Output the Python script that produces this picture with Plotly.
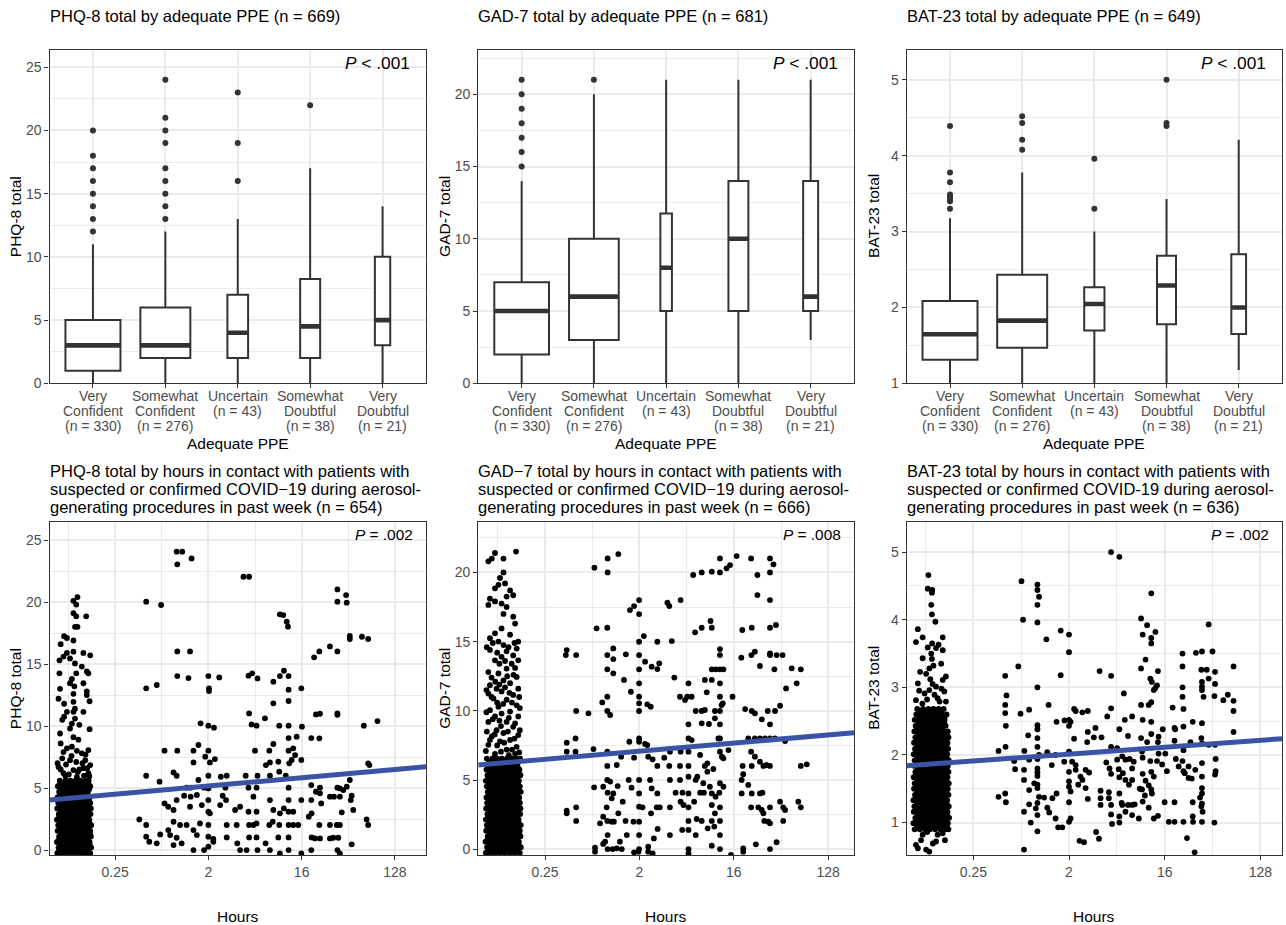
import numpy as np
import plotly.graph_objects as go

FONT = "Liberation Sans, Arial, sans-serif"
W, H = 1286, 925
INK = "#333333"
GRID = "#EBEBEB"
TICKTXT = "#4D4D4D"
FIT = "#3A53A4"

# ======================= DATA =======================
# --- top row: categories (x tick labels, one list per text line)
ppe_line1 = ["Very", "Somewhat", "Uncertain", "Somewhat", "Very"]
ppe_line2 = ["Confident", "Confident", "(n = 43)", "Doubtful", "Doubtful"]
ppe_line3 = ["(n = 330)", "(n = 276)", "", "(n = 38)", "(n = 21)"]
ppe_pos = [1, 2, 3, 4, 5]

# PHQ-8 box statistics
phq_q1 = [1, 2, 2, 2, 3]
phq_med = [3, 3, 4, 4.5, 5]
phq_q3 = [5, 6, 7, 8.25, 10]
phq_lo = [0, 0, 0, 0, 0]
phq_hi = [11, 12, 13, 17, 14]
phq_out = [[12, 13, 14, 15, 16, 17, 18, 20],
           [13, 14, 15, 16, 17, 19, 20, 21, 24],
           [16, 19, 23], [22], []]

# GAD-7 box statistics
gad_q1 = [2, 3, 5, 5, 5]
gad_med = [5, 6, 8, 10, 6]
gad_q3 = [7, 10, 11.75, 14, 14]
gad_lo = [0, 0, 0, 0, 3]
gad_hi = [14, 20, 21, 21, 21]
gad_out = [[15, 16, 17, 18, 19, 20, 21], [21], [], [], []]

# BAT-23 box statistics
bat_q1 = [1.31, 1.47, 1.695, 1.78, 1.65]
bat_med = [1.646, 1.826, 2.046, 2.29, 2.0]
bat_q3 = [2.086, 2.43, 2.266, 2.68, 2.70]
bat_lo = [1.0, 1.0, 1.0, 1.0, 1.176]
bat_hi = [3.176, 3.78, 3.0, 3.43, 4.21]
bat_out = [[3.30, 3.40, 3.43, 3.46, 3.49, 3.65, 3.78, 4.39],
           [4.08, 4.21, 4.43, 4.52],
           [3.30, 3.96], [4.39, 4.43, 5.0], []]

# y tick values
phq_yticks = [0, 5, 10, 15, 20, 25]
gad_yticks = [0, 5, 10, 15, 20]
bat_yticks = [1, 2, 3, 4, 5]
hours_ticks = [0.25, 2, 16, 128]
hours_ticktext = ["0.25", "2", "16", "128"]

# --- bottom row: scatter (x stored as log2(hours), y = score)
# PHQ-8, zero-hour column: dense rows (score, list of log2 hours)
phq0_rows_y = [-0.25, 0.2, 0.65, 1.1, 1.55, 2.0, 2.45, 2.9, 3.35, 3.8, 4.25, 4.7, 5.15, 5.6,
               -0.03, 0.43, 0.88, 1.33, 1.78, 2.22, 2.68, 3.12, 3.58, 4.02, 4.48, 4.92, 5.38]
phq0_rows_x = [
    [-3.86, -3.71, -3.57, -3.41, -3.26, -3.10, -2.95, -2.80],
    [-3.82, -3.66, -3.50, -3.35, -3.19, -3.03, -2.88, -2.77],
    [-3.87, -3.73, -3.58, -3.43, -3.27, -3.12, -2.97, -2.82],
    [-3.80, -3.64, -3.49, -3.33, -3.18, -3.02, -2.87, -2.78],
    [-3.85, -3.70, -3.55, -3.40, -3.24, -3.09, -2.93, -2.80],
    [-3.83, -3.67, -3.52, -3.36, -3.21, -3.06, -2.90, -2.77],
    [-3.87, -3.72, -3.56, -3.42, -3.28, -3.13, -2.98, -2.83],
    [-3.81, -3.65, -3.50, -3.34, -3.19, -3.04, -2.89, -2.79],
    [-3.86, -3.69, -3.54, -3.39, -3.23, -3.08, -2.92, -2.78],
    [-3.83, -3.68, -3.51, -3.37, -3.20, -3.05, -2.90, -2.80],
    [-3.85, -3.70, -3.55, -3.40, -3.25, -3.10, -2.95, -2.82],
    [-3.80, -3.63, -3.48, -3.33, -3.17, -3.02, -2.88],
    [-3.84, -3.68, -3.53, -3.38, -3.22, -3.06, -2.92, -2.80],
    [-3.78, -3.60, -3.44, -3.28, -3.12, -2.97, -2.85],
    [-3.79, -3.63, -3.49, -3.33, -3.18, -3.02, -2.87],
    [-3.75, -3.58, -3.43, -3.27, -3.11, -2.96, -2.82],
    [-3.80, -3.65, -3.50, -3.35, -3.20, -3.04, -2.89],
    [-3.73, -3.57, -3.41, -3.26, -3.10, -2.95, -2.81],
    [-3.78, -3.62, -3.47, -3.32, -3.16, -3.01, -2.86],
    [-3.76, -3.60, -3.44, -3.29, -3.13, -2.98, -2.83],
    [-3.80, -3.64, -3.49, -3.35, -3.20, -3.05, -2.90],
    [-3.74, -3.58, -3.42, -3.27, -3.12, -2.96, -2.84],
    [-3.78, -3.62, -3.46, -3.31, -3.16, -3.00, -2.85],
    [-3.76, -3.60, -3.44, -3.28, -3.13, -2.97, -2.84],
    [-3.78, -3.63, -3.48, -3.32, -3.17, -3.03, -2.88],
    [-3.72, -3.56, -3.41, -3.25, -3.10, -2.95, -2.83],
    [-3.77, -3.61, -3.46, -3.30, -3.14, -2.99, -2.86],
]
phq0_pts = [(-3.21, 20.4), (-3.34, 20.1), (-3.25, 19.8), (-3.34, 19.1), (-3.25, 18.85), (-2.93, 18.85),
            (-3.29, 18.0), (-3.21, 18.0), (-3.64, 17.25), (-3.55, 17.1), (-3.75, 16.6), (-3.34, 16.9),
            (-3.55, 15.9), (-3.34, 16.0), (-3.02, 15.9), (-2.80, 15.7), (-3.79, 15.3), (-3.66, 15.6),
            (-3.45, 15.45), (-3.29, 15.05), (-3.07, 14.8), (-2.91, 14.4), (-2.86, 14.25), (-3.79, 14.25),
            (-3.25, 14.25), (-3.39, 13.8), (-3.45, 13.45), (-3.31, 13.2), (-3.02, 13.45), (-3.77, 13.0),
            (-2.91, 12.8), (-2.82, 12.0), (-2.91, 12.5), (-3.34, 12.6), (-3.82, 12.2), (-3.64, 11.8),
            (-3.34, 11.95), (-3.02, 11.15), (-3.55, 11.15), (-3.34, 11.15), (-3.29, 11.4), (-3.70, 10.5),
            (-3.64, 10.75), (-3.39, 10.2), (-3.45, 9.8), (-3.15, 10.1), (-3.29, 10.6), (-2.82, 9.75),
            (-3.77, 9.4), (-3.34, 9.1), (-3.18, 8.9), (-3.75, 8.6), (-3.55, 8.2), (-3.39, 8.33),
            (-2.86, 8.06), (-3.66, 7.9), (-3.23, 8.0), (-3.07, 7.8), (-3.82, 6.7), (-3.45, 7.25),
            (-2.96, 7.25), (-2.80, 6.85), (-3.34, 6.45), (-3.02, 6.6), (-3.66, 6.2), (-3.23, 5.9),
            (-2.86, 6.2), (-3.75, 6.5), (-3.58, 6.9), (-3.49, 6.1), (-3.15, 6.5), (-3.05, 7.0),
            (-2.90, 6.6), (-3.70, 7.4), (-3.40, 7.6), (-3.25, 7.1), (-2.95, 7.7), (-3.60, 5.95),
            (-3.00, 6.0), (-3.85, 7.0), (-3.20, 6.3), (-2.83, 5.95)]
# PHQ-8, hours > 0
phq_pts = [(-0.02, 24.06), (0.16, 24.06), (0.0, 23.04), (0.46, 23.52), (2.13, 22.04), (2.31, 22.04),
           (5.15, 21.02), (5.43, 20.56), (5.15, 20.03), (5.45, 19.95), (-1.0, 20.03), (-0.52, 19.76),
           (3.30, 19.01), (3.41, 18.95), (3.52, 18.41), (3.56, 18.01), (5.55, 17.26), (5.55, 17.02),
           (5.94, 17.2), (6.14, 17.02), (0.0, 16.02), (0.41, 16.02), (4.91, 16.42), (4.57, 16.02),
           (4.40, 15.54), (5.15, 16.02), (3.43, 14.46), (3.30, 14.03), (3.58, 14.03), (0.0, 14.03),
           (0.36, 13.87), (1.0, 14.03), (1.35, 13.92), (2.29, 14.06), (2.41, 14.25), (2.58, 13.84),
           (3.09, 13.58), (-1.0, 13.04), (-0.66, 13.31), (1.02, 13.04), (1.02, 12.82), (3.99, 13.04),
           (3.58, 12.93), (3.58, 12.02), (3.09, 11.83), (4.46, 10.94), (4.59, 10.99), (5.15, 11.02),
           (5.15, 10.91), (2.31, 11.02), (2.82, 10.62), (0.75, 10.22), (1.0, 10.03), (1.18, 9.87),
           (2.39, 10.13), (2.55, 10.03), (3.28, 10.03), (3.58, 10.03), (4.01, 9.95), (6.0, 10.03),
           (6.44, 10.40), (3.58, 9.03), (3.84, 9.14), (4.31, 9.03), (4.57, 9.01), (3.09, 8.55),
           (0.68, 8.47), (-0.41, 8.01), (0.0, 8.01), (0.52, 8.01), (1.0, 8.01), (2.50, 8.01),
           (2.96, 8.01), (3.58, 8.01), (3.73, 8.20), (3.99, 7.26), (3.79, 7.66), (3.68, 7.26),
           (3.60, 6.99), (1.21, 7.34), (1.05, 7.07), (0.90, 7.53), (0.52, 7.07), (3.25, 7.12),
           (2.98, 7.07), (2.85, 6.85), (6.14, 6.99), (6.18, 6.85), (-0.12, 6.26), (-0.02, 5.99),
           (-1.0, 5.99), (-0.57, 5.51), (1.0, 5.99), (1.40, 5.91), (1.59, 5.99), (2.20, 5.99),
           (2.58, 5.99), (2.98, 5.99), (3.28, 6.32), (3.49, 5.99), (0.68, 5.65), (0.30, 5.03),
           (0.43, 5.03), (0.86, 5.03), (1.0, 4.97), (1.55, 5.03), (2.29, 5.03), (2.55, 5.03),
           (3.58, 5.03), (4.31, 5.24), (4.59, 5.03), (5.15, 5.03), (5.45, 5.11), (5.55, 5.65),
           (5.23, 4.97), (5.34, 4.84), (-0.02, 4.03), (0.22, 4.38), (0.43, 4.30), (0.63, 4.44),
           (1.0, 4.03), (1.46, 4.38), (1.57, 4.03), (2.45, 4.30), (2.98, 4.03), (3.58, 4.03),
           (3.99, 4.03), (4.31, 4.03), (4.46, 4.70), (4.63, 3.76), (4.91, 4.30), (5.04, 4.30),
           (5.23, 4.30), (5.58, 4.03), (5.61, 4.38), (4.59, 4.57), (-0.41, 3.76), (-0.29, 3.49),
           (-0.12, 3.23), (0.41, 3.49), (0.79, 3.63), (1.0, 3.09), (1.05, 2.96), (1.38, 3.63),
           (1.86, 3.23), (2.02, 3.49), (2.29, 3.09), (2.55, 3.09), (3.09, 3.23), (3.30, 2.96),
           (3.43, 3.36), (3.58, 3.09), (3.73, 3.09), (4.23, 2.69), (4.32, 2.96), (5.29, 3.04),
           (5.66, 3.23), (-1.22, 2.47), (-1.0, 2.02), (-0.29, 1.61), (-0.12, 2.28), (0.09, 2.02),
           (0.30, 2.02), (0.52, 1.61), (0.73, 2.15), (1.0, 2.02), (1.59, 2.02), (1.91, 2.02),
           (2.31, 2.02), (2.45, 2.02), (2.55, 2.15), (2.96, 2.02), (3.07, 2.28), (3.28, 2.02),
           (3.58, 2.02), (3.73, 2.02), (3.89, 2.02), (4.57, 2.02), (4.91, 2.02), (5.13, 2.02),
           (5.23, 2.02), (6.09, 2.47), (6.14, 2.02), (-1.0, 1.08), (-0.55, 1.26), (-0.23, 1.21),
           (-0.02, 0.99), (0.63, 1.21), (1.0, 1.08), (1.16, 0.89), (1.59, 1.02), (2.31, 1.02),
           (2.55, 1.02), (3.25, 1.02), (3.58, 1.02), (4.32, 1.02), (4.43, 0.94), (4.59, 0.94),
           (4.91, 0.94), (5.02, 0.99), (5.18, 0.99), (-0.90, 0.67), (-0.66, 0.54), (-0.12, 0.40),
           (0.14, 0.54), (0.52, 0.0), (0.86, 0.0), (1.0, 0.27), (1.16, 0.67), (1.93, 0.54),
           (2.02, 0.0), (2.23, 0.0), (2.58, 0.0), (2.84, 0.54), (2.98, 0.0), (3.30, -0.27),
           (3.58, 0.0), (3.99, -0.27), (4.31, 0.0), (5.15, 0.0), (5.23, -0.27), (5.61, 0.46)]

# GAD-7, zero-hour column
gad0_rows_y = [-0.25, 0.15, 0.55, 0.95, 1.35, 1.75, 2.15, 2.55, 2.95, 3.35, 3.75, 4.15, 4.55,
               4.95, 5.35, 5.75, 6.15, 6.55,
               -0.05, 0.35, 0.75, 1.15, 1.55, 1.95, 2.35, 2.75, 3.15, 3.55, 3.95, 4.35, 4.75,
               5.15, 5.55, 5.95, 6.35]
gad0_rows_x = [
    [-3.88, -3.73, -3.58, -3.42, -3.27, -3.11, -2.96, -2.80],
    [-3.84, -3.68, -3.53, -3.37, -3.22, -3.06, -2.91, -2.77],
    [-3.89, -3.75, -3.60, -3.44, -3.29, -3.14, -2.99, -2.83],
    [-3.82, -3.66, -3.51, -3.35, -3.20, -3.04, -2.89, -2.78],
    [-3.87, -3.72, -3.57, -3.41, -3.26, -3.10, -2.94, -2.80],
    [-3.85, -3.69, -3.54, -3.38, -3.23, -3.07, -2.92, -2.77],
    [-3.88, -3.74, -3.59, -3.43, -3.29, -3.13, -2.98, -2.84],
    [-3.83, -3.67, -3.52, -3.36, -3.21, -3.05, -2.90, -2.79],
    [-3.87, -3.71, -3.55, -3.40, -3.24, -3.09, -2.93, -2.78],
    [-3.84, -3.69, -3.53, -3.38, -3.22, -3.06, -2.91, -2.80],
    [-3.86, -3.71, -3.56, -3.41, -3.26, -3.11, -2.96, -2.82],
    [-3.82, -3.65, -3.50, -3.35, -3.19, -3.04, -2.89, -2.77],
    [-3.85, -3.70, -3.54, -3.39, -3.23, -3.07, -2.93, -2.80],
    [-3.88, -3.72, -3.57, -3.42, -3.27, -3.12, -2.97, -2.83],
    [-3.83, -3.67, -3.51, -3.36, -3.20, -3.05, -2.90, -2.78],
    [-3.86, -3.70, -3.55, -3.40, -3.25, -3.09, -2.94, -2.81],
    [-3.81, -3.64, -3.49, -3.34, -3.18, -3.03, -2.88],
    [-3.85, -3.68, -3.52, -3.37, -3.21, -3.06, -2.92, -2.79],
    [-3.81, -3.65, -3.50, -3.35, -3.19, -3.03, -2.88],
    [-3.76, -3.60, -3.45, -3.30, -3.14, -2.98, -2.84],
    [-3.82, -3.67, -3.52, -3.36, -3.21, -3.06, -2.91],
    [-3.74, -3.59, -3.43, -3.28, -3.12, -2.97, -2.83],
    [-3.80, -3.64, -3.49, -3.33, -3.18, -3.02, -2.87],
    [-3.77, -3.61, -3.46, -3.30, -3.15, -2.99, -2.84],
    [-3.81, -3.66, -3.51, -3.36, -3.21, -3.06, -2.91],
    [-3.75, -3.59, -3.44, -3.28, -3.13, -2.97, -2.85],
    [-3.79, -3.63, -3.47, -3.32, -3.16, -3.01, -2.86],
    [-3.77, -3.61, -3.45, -3.30, -3.14, -2.98, -2.85],
    [-3.79, -3.64, -3.48, -3.33, -3.18, -3.03, -2.89],
    [-3.73, -3.57, -3.42, -3.27, -3.11, -2.96, -2.83],
    [-3.78, -3.62, -3.47, -3.31, -3.15, -3.00, -2.86],
    [-3.80, -3.65, -3.50, -3.34, -3.19, -3.04, -2.90],
    [-3.75, -3.59, -3.43, -3.28, -3.12, -2.97, -2.84],
    [-3.78, -3.62, -3.47, -3.32, -3.17, -3.01, -2.87],
    [-3.76, -3.60, -3.44, -3.29, -3.13, -2.98, -2.85],
]
gad0_pts = [(-2.92, 21.5), (-3.59, 21.4), (-3.80, 20.8), (-3.32, 21.0), (-3.69, 21.0), (-3.32, 20.0),
            (-3.43, 19.6), (-3.27, 19.2), (-3.48, 19.1), (-3.11, 18.7), (-3.59, 18.85), (-3.22, 18.25),
            (-3.01, 18.35), (-3.75, 18.1), (-3.59, 17.9), (-3.80, 17.65), (-3.38, 17.75), (-3.22, 17.5),
            (-3.32, 17.0), (-3.01, 16.8), (-2.95, 16.3), (-3.38, 15.95), (-3.59, 15.6), (-3.75, 15.25),
            (-3.11, 15.5), (-2.85, 15.0), (-3.48, 15.0), (-3.32, 14.75), (-2.90, 14.5), (-3.75, 14.4),
            (-3.22, 14.3), (-3.01, 14.0), (-3.38, 13.9), (-3.59, 13.65), (-2.85, 13.65), (-3.06, 13.4),
            (-3.22, 13.05), (-3.80, 12.8), (-3.48, 12.7), (-2.90, 12.45), (-3.32, 12.2), (-3.11, 12.0),
            (-3.75, 11.85), (-3.54, 11.6), (-2.85, 11.6), (-3.38, 11.4), (-3.01, 11.15), (-3.80, 11.25),
            (-3.64, 10.9), (-3.22, 10.8), (-3.48, 10.3), (-2.90, 10.4), (-3.75, 10.05), (-3.11, 9.95),
            (-3.38, 9.8), (-3.59, 9.6), (-2.85, 9.6), (-3.22, 9.2), (-3.80, 9.2), (-3.01, 8.85),
            (-3.54, 8.6), (-3.32, 8.4), (-2.85, 8.25), (-3.69, 8.15), (-3.11, 7.9), (-3.43, 7.8),
            (-3.80, 7.55), (-2.90, 7.4), (-3.22, 7.2), (-3.59, 6.9), (-3.85, 14.6), (-3.66, 14.9),
            (-3.52, 14.2), (-3.16, 14.6), (-2.97, 14.9), (-3.45, 13.4), (-3.27, 13.6), (-2.95, 13.1),
            (-3.70, 12.4), (-3.58, 12.1), (-3.20, 12.5), (-3.00, 12.6), (-3.86, 11.5), (-3.45, 11.9),
            (-3.27, 11.7), (-3.13, 11.3), (-2.82, 11.0), (-3.70, 11.0), (-3.52, 10.6), (-3.33, 10.5),
            (-3.05, 10.6), (-2.80, 10.2), (-3.86, 9.9), (-3.66, 9.4), (-3.45, 9.3), (-3.15, 9.5),
            (-2.95, 9.1), (-3.85, 8.5), (-3.60, 8.3), (-3.40, 8.9), (-3.18, 8.5), (-2.97, 8.0),
            (-2.80, 8.6), (-3.75, 7.9), (-3.52, 7.5), (-3.30, 7.7), (-3.05, 7.2), (-2.82, 7.0),
            (-3.88, 7.1), (-3.62, 6.6), (-3.40, 7.05), (-3.15, 6.8), (-2.95, 6.9)]
# GAD-7, hours > 0
gad_pts = [(0.33, 21.32), (-0.01, 21.01), (-0.43, 20.34), (-0.01, 20.0), (0.70, 17.28), (0.83, 17.57),
           (0.99, 18.0), (0.99, 16.99), (1.89, 17.81), (1.95, 17.57), (2.31, 18.0), (-0.36, 15.96),
           (-0.02, 16.0), (-1.31, 14.39), (-1.34, 14.03), (-1.01, 14.03), (0.17, 14.51), (-0.02, 14.03),
           (0.17, 13.74), (0.57, 14.08), (0.99, 14.03), (0.99, 14.99), (1.14, 15.40), (1.57, 14.99),
           (2.03, 15.04), (1.18, 13.55), (1.39, 13.19), (1.57, 13.02), (1.63, 13.43), (-0.02, 13.0),
           (0.17, 12.71), (0.51, 12.23), (0.99, 13.0), (0.99, 11.99), (2.11, 12.40), (0.73, 11.38),
           (0.99, 11.02), (-0.02, 11.02), (-0.18, 10.61), (-0.02, 9.99), (0.07, 9.70), (-1.01, 9.99),
           (-0.62, 9.82), (0.99, 10.54), (0.99, 9.99), (1.25, 10.47), (1.36, 10.30), (2.29, 11.02),
           (2.45, 10.78), (2.52, 11.02), (2.66, 11.02), (2.56, 11.99), (2.56, 9.03), (2.79, 9.99),
           (2.98, 9.99), (3.08, 10.06), (2.98, 9.10), (2.71, 19.81), (2.98, 20.0), (3.30, 20.05),
           (3.56, 20.0), (3.56, 21.01), (3.77, 20.29), (3.88, 20.53), (4.09, 21.18), (4.55, 21.01),
           (5.15, 21.01), (5.26, 20.58), (5.15, 20.0), (4.75, 19.81), (4.75, 18.36), (5.15, 18.0),
           (5.15, 16.0), (5.34, 16.20), (4.57, 16.0), (4.27, 15.84), (2.77, 15.67), (2.98, 16.0),
           (3.26, 16.49), (3.30, 16.0), (3.56, 14.46), (3.56, 14.03), (4.56, 14.03), (4.67, 14.27),
           (4.24, 13.84), (4.83, 13.24), (5.15, 14.15), (5.15, 14.03), (5.36, 14.03), (5.55, 14.03),
           (5.29, 13.0), (5.84, 13.07), (6.13, 13.0), (5.66, 11.62), (6.0, 11.99), (3.30, 13.0),
           (3.43, 13.0), (3.56, 13.0), (3.67, 13.0), (3.08, 12.23), (3.30, 12.23), (3.56, 11.99),
           (3.14, 11.34), (3.56, 11.02), (3.96, 11.02), (3.40, 9.99), (3.56, 9.99), (3.65, 10.54),
           (3.61, 10.42), (4.36, 10.13), (4.57, 9.99), (4.67, 9.82), (4.89, 9.39), (5.08, 9.99),
           (5.31, 9.99), (5.47, 10.37), (5.15, 9.03), (3.56, 9.03), (3.40, 9.46), (3.21, 9.05),
           (-1.31, 7.70), (-1.03, 8.01), (-1.31, 7.05), (-1.03, 7.05), (-0.46, 7.24), (-0.02, 7.05),
           (0.68, 7.77), (0.99, 8.01), (0.99, 7.77), (1.18, 7.61), (1.25, 7.53), (0.83, 6.62),
           (0.42, 6.69), (0.28, 6.09), (-0.02, 6.02), (1.28, 6.69), (1.42, 6.50), (1.57, 6.02),
           (1.79, 6.62), (1.97, 7.05), (1.95, 6.02), (2.31, 7.05), (2.29, 6.02), (2.56, 7.05),
           (2.56, 6.02), (2.56, 8.01), (2.66, 7.89), (2.93, 6.81), (3.08, 6.02), (3.16, 6.21),
           (3.56, 8.01), (3.56, 7.05), (3.62, 6.69), (3.67, 6.57), (3.83, 7.17), (3.51, 8.01),
           (4.46, 8.01), (4.55, 7.05), (4.67, 6.69), (4.67, 8.01), (4.83, 8.01), (4.99, 8.01),
           (5.15, 8.01), (5.31, 8.01), (5.63, 7.82), (4.83, 6.33), (4.94, 6.02), (5.04, 6.09),
           (5.15, 6.02), (4.57, 6.02), (4.28, 6.02), (6.13, 6.02), (6.32, 6.14), (3.35, 5.80),
           (3.16, 5.61), (-0.44, 4.48), (-0.15, 4.52), (-0.02, 5.01), (0.07, 4.89), (-0.01, 4.09),
           (0.17, 4.04), (0.12, 3.68), (0.31, 4.57), (0.47, 3.44), (0.66, 5.01), (0.75, 4.45),
           (0.99, 5.01), (0.99, 4.04), (0.99, 3.08), (1.10, 3.03), (1.34, 5.01), (1.39, 4.40),
           (1.57, 4.04), (1.55, 3.03), (1.65, 3.03), (1.37, 2.60), (1.97, 3.03), (1.97, 5.01),
           (2.15, 4.09), (2.29, 5.01), (2.37, 4.09), (2.31, 3.44), (2.40, 3.20), (2.56, 3.03),
           (2.56, 4.04), (2.56, 5.25), (2.79, 5.01), (2.84, 5.25), (2.74, 3.44), (2.93, 4.09),
           (3.05, 4.09), (3.03, 4.77), (3.24, 4.52), (3.30, 4.04), (3.42, 3.80), (3.54, 4.09),
           (3.56, 4.77), (3.67, 4.52), (3.30, 3.20), (3.56, 3.03), (3.40, 2.60), (4.25, 5.01),
           (4.30, 5.42), (4.25, 4.04), (4.46, 4.65), (4.57, 4.04), (4.55, 3.03), (4.78, 3.03),
           (4.89, 2.84), (4.94, 2.60), (4.83, 4.04), (4.91, 4.09), (4.97, 2.05), (5.10, 2.0),
           (5.15, 1.88), (5.15, 3.03), (5.47, 3.44), (5.57, 3.03), (5.63, 2.84), (5.57, 2.05),
           (6.05, 3.44), (6.13, 3.03), (-1.31, 2.79), (-1.31, 2.60), (-1.01, 3.03), (-1.01, 2.05),
           (-0.25, 1.88), (-0.15, 2.36), (-0.02, 2.05), (-0.04, 3.03), (0.12, 2.0), (0.19, 2.0),
           (0.33, 2.60), (0.56, 2.05), (0.81, 2.0), (0.99, 2.0), (0.99, 1.03), (0.60, 1.03),
           (1.97, 1.03), (1.58, 1.47), (1.46, 0.79), (2.36, 1.40), (2.56, 2.05), (2.56, 1.40),
           (2.79, 1.03), (2.82, 2.19), (2.98, 2.05), (3.17, 1.52), (3.30, 2.05), (3.38, 1.64),
           (3.56, 2.05), (3.56, 1.03), (3.30, 0.26), (3.56, 0.02), (4.30, 0.07), (4.30, -0.17),
           (4.70, 0.36), (5.15, 0.02), (5.36, 0.51), (3.91, -0.41), (-0.41, 0.12), (-0.41, -0.17),
           (-0.15, 0.39), (-0.09, 0.55), (-0.01, 1.03), (-0.01, 0.02), (0.15, 0.02), (0.28, 0.07),
           (0.38, 0.55), (0.44, 0.02), (0.83, -0.22), (0.99, 0.02), (0.97, -0.17), (1.28, 0.19),
           (1.28, -0.17), (1.42, -0.29), (2.56, 0.02), (2.56, -0.29)]

# BAT-23, zero-hour column
bat0_rows_y = [0.9, 0.99, 1.07, 1.16, 1.24, 1.33, 1.41, 1.5, 1.58, 1.67, 1.75, 1.84, 1.92, 2.01,
               2.09, 2.18, 2.26, 2.35, 2.43, 2.52, 2.6, 2.68,
               0.945, 1.03, 1.115, 1.2, 1.285, 1.37, 1.455, 1.54, 1.625, 1.71, 1.795, 1.88,
               1.965, 2.05, 2.135, 2.22, 2.305, 2.39, 2.475, 2.56, 2.64]
bat0_rows_x = [
    [-3.84, -3.68, -3.52, -3.36, -3.20, -3.04, -2.89, -2.78],
    [-3.88, -3.73, -3.57, -3.41, -3.26, -3.10, -2.95, -2.80],
    [-3.82, -3.66, -3.51, -3.35, -3.19, -3.03, -2.88, -2.76],
    [-3.87, -3.71, -3.55, -3.40, -3.24, -3.09, -2.93, -2.81],
    [-3.85, -3.69, -3.53, -3.38, -3.22, -3.07, -2.91, -2.77],
    [-3.88, -3.74, -3.58, -3.43, -3.27, -3.12, -2.96, -2.82],
    [-3.83, -3.67, -3.52, -3.36, -3.21, -3.05, -2.90, -2.78],
    [-3.86, -3.70, -3.55, -3.39, -3.24, -3.08, -2.93, -2.80],
    [-3.84, -3.68, -3.53, -3.37, -3.22, -3.06, -2.91, -2.77],
    [-3.87, -3.72, -3.56, -3.41, -3.25, -3.10, -2.94, -2.81],
    [-3.82, -3.66, -3.50, -3.35, -3.19, -3.04, -2.88, -2.78],
    [-3.86, -3.71, -3.55, -3.40, -3.24, -3.09, -2.93, -2.80],
    [-3.84, -3.69, -3.53, -3.38, -3.22, -3.07, -2.91, -2.77],
    [-3.87, -3.72, -3.57, -3.41, -3.26, -3.10, -2.95, -2.82],
    [-3.83, -3.67, -3.52, -3.36, -3.21, -3.05, -2.90, -2.79],
    [-3.86, -3.70, -3.55, -3.39, -3.24, -3.08, -2.93, -2.81],
    [-3.82, -3.66, -3.51, -3.35, -3.20, -3.04, -2.89, -2.78],
    [-3.85, -3.69, -3.54, -3.38, -3.23, -3.07, -2.92, -2.80],
    [-3.81, -3.64, -3.48, -3.33, -3.17, -3.02, -2.87],
    [-3.84, -3.68, -3.52, -3.37, -3.21, -3.05, -2.90],
    [-3.79, -3.62, -3.46, -3.30, -3.14, -2.98, -2.84],
    [-3.76, -3.58, -3.41, -3.25, -3.09, -2.93],
    [-3.76, -3.60, -3.44, -3.28, -3.12, -2.97, -2.83],
    [-3.80, -3.65, -3.49, -3.33, -3.18, -3.02, -2.87],
    [-3.74, -3.58, -3.43, -3.27, -3.11, -2.95, -2.82],
    [-3.79, -3.63, -3.47, -3.32, -3.16, -3.01, -2.86],
    [-3.77, -3.61, -3.45, -3.30, -3.14, -2.99, -2.84],
    [-3.81, -3.66, -3.50, -3.35, -3.19, -3.04, -2.89],
    [-3.75, -3.59, -3.44, -3.28, -3.13, -2.97, -2.84],
    [-3.78, -3.62, -3.47, -3.31, -3.16, -3.00, -2.86],
    [-3.76, -3.60, -3.45, -3.29, -3.14, -2.98, -2.84],
    [-3.79, -3.64, -3.48, -3.33, -3.17, -3.02, -2.87],
    [-3.74, -3.58, -3.42, -3.27, -3.11, -2.96, -2.83],
    [-3.78, -3.63, -3.47, -3.32, -3.16, -3.01, -2.86],
    [-3.76, -3.61, -3.45, -3.30, -3.14, -2.99, -2.84],
    [-3.79, -3.64, -3.49, -3.33, -3.18, -3.02, -2.88],
    [-3.75, -3.59, -3.44, -3.28, -3.12, -2.97, -2.84],
    [-3.78, -3.62, -3.46, -3.31, -3.15, -3.00, -2.86],
    [-3.74, -3.57, -3.41, -3.26, -3.10, -2.95, -2.83],
    [-3.77, -3.60, -3.44, -3.29, -3.13, -2.98],
    [-3.72, -3.55, -3.39, -3.23, -3.07, -2.91],
    [-3.70, -3.53, -3.37, -3.21, -3.05, -2.90],
    [-3.66, -3.49, -3.33, -3.17, -3.01],
]
bat0_pts = [(-3.41, 4.66), (-3.43, 4.46), (-3.29, 4.44), (-3.30, 4.40), (-3.32, 4.22), (-3.30, 4.08),
            (-3.19, 3.97), (-3.74, 3.86), (-3.59, 3.74), (-3.80, 3.67), (-2.96, 3.74), (-3.29, 3.65),
            (-3.09, 3.63), (-3.43, 3.59), (-3.17, 3.58), (-2.96, 3.55), (-3.32, 3.50), (-3.59, 3.43),
            (-3.01, 3.35), (-3.38, 3.28), (-3.67, 3.23), (-3.48, 3.2), (-2.86, 3.16), (-2.96, 3.11),
            (-3.74, 3.06), (-3.17, 3.01), (-3.38, 2.96), (-2.91, 2.94), (-3.80, 2.81), (-3.06, 2.79),
            (-3.53, 2.91), (-2.86, 2.79), (-3.22, 2.89), (-3.30, 3.42), (-3.25, 3.32), (-3.35, 3.12),
            (-3.60, 2.76), (-3.45, 2.82), (-3.12, 2.84), (-3.70, 2.95), (-3.28, 3.05), (-3.00, 2.98),
            (-3.74, 0.62), (-3.80, 0.67), (-3.48, 0.6), (-3.38, 0.57), (-3.64, 0.74), (-3.27, 0.69),
            (-3.17, 0.72), (-2.89, 0.74), (-3.59, 0.82), (-2.96, 0.84), (-3.45, 0.86), (-3.12, 0.82)]
# BAT-23, hours > 0
bat_pts = [(2.32, 5.0), (2.58, 4.93), (-0.49, 4.57), (0.01, 4.52), (0.01, 4.44), (0.06, 4.34),
           (0.01, 4.22), (3.58, 4.39), (-0.44, 4.0), (0.01, 3.96), (3.26, 4.02), (3.45, 3.92),
           (5.38, 3.93), (0.74, 3.84), (1.0, 3.78), (3.31, 3.78), (3.71, 3.82), (0.29, 3.71),
           (3.58, 3.73), (3.58, 3.65), (1.0, 3.52), (4.56, 3.50), (4.98, 3.51), (5.17, 3.53),
           (5.50, 3.53), (3.40, 3.41), (-0.59, 3.31), (3.26, 3.28), (1.96, 3.24), (4.56, 3.31),
           (6.16, 3.31), (5.15, 3.26), (5.32, 3.26), (5.58, 3.23), (3.79, 3.24), (-1.0, 3.17),
           (0.74, 3.18), (2.32, 3.17), (3.55, 3.13), (3.60, 3.08), (5.17, 3.08), (5.38, 3.13),
           (5.17, 3.01), (5.58, 3.05), (3.76, 3.03), (3.71, 2.99), (3.66, 2.96), (0.01, 3.0),
           (4.56, 3.0), (5.17, 2.96), (-0.96, 2.88), (2.72, 2.91), (5.22, 2.86), (5.56, 2.87),
           (4.56, 2.86), (5.84, 2.81), (5.98, 2.89), (6.16, 2.80), (-1.0, 2.74), (0.36, 2.74),
           (3.26, 2.74), (3.50, 2.74), (3.58, 2.78), (2.32, 2.69), (4.25, 2.70), (4.59, 2.68),
           (-0.25, 2.67), (1.16, 2.68), (1.21, 2.65), (1.42, 2.63), (1.59, 2.65), (-1.0, 2.62),
           (-0.52, 2.61), (2.20, 2.57), (2.98, 2.57), (2.75, 2.52), (3.31, 2.52), (3.58, 2.49),
           (6.16, 2.65), (0.61, 2.49), (0.86, 2.51), (1.0, 2.52), (1.05, 2.49), (0.01, 2.44),
           (-0.98, 2.43), (0.01, 2.38), (1.0, 2.43), (5.17, 2.47), (4.88, 2.49), (4.59, 2.42),
           (4.33, 2.38), (3.94, 2.38), (4.31, 2.40), (1.83, 2.40), (1.59, 2.34), (2.58, 2.38),
           (6.16, 2.34), (-0.28, 2.29), (0.01, 2.25), (1.16, 2.24), (1.78, 2.26), (2.02, 2.26),
           (2.85, 2.28), (3.26, 2.25), (3.58, 2.31), (3.45, 2.19), (3.81, 2.27), (3.79, 2.19),
           (5.15, 2.25), (4.31, 2.21), (1.57, 2.19), (2.32, 2.12), (-0.99, 2.12), (0.01, 2.12),
           (4.81, 2.19), (4.59, 2.07), (5.17, 2.17), (5.38, 2.15), (5.58, 2.15), (-1.21, 2.06),
           (-0.40, 2.06), (0.32, 2.04), (1.0, 2.05), (0.58, 2.0), (2.51, 2.10), (3.29, 2.05),
           (3.81, 2.02), (4.02, 2.02), (-0.72, 1.91), (-0.25, 1.93), (0.01, 1.94), (0.06, 2.0),
           (0.85, 1.90), (1.10, 1.90), (1.21, 1.85), (2.17, 1.89), (2.51, 1.93), (2.67, 1.98),
           (2.77, 1.93), (2.90, 1.94), (3.03, 1.90), (3.31, 1.96), (3.55, 1.91), (3.76, 1.91),
           (3.92, 1.86), (4.35, 1.94), (4.56, 1.91), (4.75, 1.83), (5.17, 1.88), (5.60, 1.94),
           (5.60, 1.76), (5.58, 1.71), (0.46, 1.85), (-0.69, 1.79), (-0.41, 1.78), (0.01, 1.80),
           (0.01, 1.74), (0.01, 1.69), (1.0, 1.75), (1.21, 1.78), (1.52, 1.78), (1.63, 1.74),
           (2.27, 1.80), (2.32, 1.72), (2.56, 1.79), (2.69, 1.73), (2.98, 1.80), (3.31, 1.72),
           (3.58, 1.75), (3.66, 1.68), (4.07, 1.76), (4.44, 1.83), (4.59, 1.76), (4.63, 1.73),
           (4.96, 1.78), (5.17, 1.68), (4.75, 1.66), (4.85, 1.65), (-0.41, 1.63), (-0.09, 1.58),
           (0.01, 1.56), (0.01, 1.51), (1.0, 1.61), (1.0, 1.53), (1.36, 1.68), (1.42, 1.63),
           (1.29, 1.56), (1.52, 1.51), (2.58, 1.67), (2.77, 1.63), (2.88, 1.56), (2.98, 1.63),
           (3.40, 1.62), (3.50, 1.55), (3.58, 1.49), (3.29, 1.49), (3.60, 1.43), (3.38, 1.40),
           (3.22, 1.50), (5.17, 1.51), (5.17, 1.43), (5.11, 1.37), (5.17, 1.28), (5.15, 1.24),
           (5.19, 1.16), (-1.21, 1.38), (-1.0, 1.43), (-0.98, 1.30), (-0.25, 1.48), (0.06, 1.38),
           (0.01, 1.29), (-0.04, 1.21), (0.01, 1.11), (0.22, 1.37), (0.32, 1.22), (0.38, 1.15),
           (-0.25, 1.27), (-0.41, 1.16), (-0.20, 1.0), (0.01, 0.87), (0.48, 1.36), (0.61, 1.43),
           (0.58, 1.06), (0.66, 0.93), (0.79, 0.93), (1.0, 1.30), (1.05, 1.46), (1.0, 1.01),
           (1.05, 1.06), (1.59, 1.35), (1.99, 1.47), (1.99, 1.36), (1.99, 1.26), (2.25, 1.45),
           (2.25, 1.36), (2.32, 1.26), (2.32, 1.12), (2.35, 0.98), (1.85, 0.86), (1.94, 0.76),
           (1.33, 0.73), (1.47, 0.71), (2.58, 1.43), (2.65, 1.29), (2.77, 1.16), (2.58, 1.09),
           (2.58, 1.0), (2.67, 1.26), (2.85, 1.26), (2.98, 1.26), (3.06, 1.27), (2.98, 1.11),
           (3.19, 1.06), (3.31, 1.31), (3.50, 1.22), (3.66, 1.06), (3.79, 1.10), (4.0, 1.30),
           (4.13, 1.01), (4.31, 1.01), (4.31, 1.30), (4.59, 1.01), (4.70, 0.77), (4.88, 1.09),
           (4.89, 1.01), (4.88, 1.30), (4.94, 0.56), (5.17, 1.01), (5.56, 1.0), (-0.41, 0.60)]

# fitted regression lines (endpoints, log2 hours -> score)
phq_fit_x = [-4.11, 8.0]
phq_fit_y = [4.03, 6.72]
gad_fit_x = [-4.12, 7.82]
gad_fit_y = [6.09, 8.42]
bat_fit_x = [-4.09, 7.68]
bat_fit_y = [1.84, 2.24]

# texts
top_titles = ["PHQ-8 total by adequate PPE (n = 669)",
              "GAD-7 total by adequate PPE (n = 681)",
              "BAT-23 total by adequate PPE (n = 649)"]
bottom_titles = [
    ["PHQ-8 total by hours in contact with patients with",
     "suspected or confirmed COVID\u221219 during aerosol-",
     "generating procedures in past week (n = 654)"],
    ["GAD\u22127 total by hours in contact with patients with",
     "suspected or confirmed COVID\u221219 during aerosol-",
     "generating procedures in past week (n = 666)"],
    ["BAT-23 total by hours in contact with patients with",
     "suspected or confirmed COVID-19 during aerosol-",
     "generating procedures in past week (n = 636)"],
]
y_titles = ["PHQ-8 total", "GAD-7 total", "BAT-23 total"]
p_top = ["<i>P</i> &lt; .001", "<i>P</i> &lt; .001", "<i>P</i> &lt; .001"]
p_bottom = ["<i>P</i> = .002", "<i>P</i> = .008", "<i>P</i> = .002"]

# ======================= LAYOUT GEOMETRY (pixels) =======================
PANELS = {
    1: (49.5, 49.5, 426.0, 383.3),
    2: (478.3, 49.5, 854.0, 383.3),
    3: (906.7, 49.5, 1282.0, 383.3),
    4: (49.5, 521.7, 426.0, 855.0),
    5: (478.3, 521.7, 854.0, 855.0),
    6: (906.7, 521.7, 1282.0, 855.0),
}
BOX_W = {1: [0.76, 0.69, 0.286, 0.276, 0.212],
         2: [0.757, 0.688, 0.16, 0.276, 0.208],
         3: [0.762, 0.693, 0.281, 0.263, 0.204]}
Y_RANGE = {1: [0, 26.4], 2: [0, 23.1], 3: [1, 5.4],
           4: [-0.4, 26.48], 5: [-0.41, 23.66], 6: [0.52, 5.45]}


def px_x(p):
    return p / W


def px_y(p):
    return 1 - p / H


fig = go.Figure()


def ax_names(i):
    s = "" if i == 1 else str(i)
    return "x" + s, "y" + s, "xaxis" + s, "yaxis" + s


# ---------- top row: box plots ----------
top_sets = [
    (phq_q1, phq_med, phq_q3, phq_lo, phq_hi, phq_out),
    (gad_q1, gad_med, gad_q3, gad_lo, gad_hi, gad_out),
    (bat_q1, bat_med, bat_q3, bat_lo, bat_hi, bat_out),
]
for k, (q1, med, q3, lo, hi, outs) in enumerate(top_sets):
    i = k + 1
    xr, yr, _, _ = ax_names(i)
    for j, pos in enumerate(ppe_pos):
        w = BOX_W[i][j]
        fig.add_trace(go.Box(x=[pos], q1=[q1[j]], median=[med[j]], q3=[q3[j]],
                             lowerfence=[lo[j]], upperfence=[hi[j]], width=w,
                             whiskerwidth=0, fillcolor="white", boxpoints=False,
                             line=dict(color=INK, width=2), xaxis=xr, yaxis=yr,
                             hoverinfo="skip", showlegend=False))
        fig.add_trace(go.Scatter(x=[pos - w / 2, pos + w / 2], y=[med[j], med[j]], mode="lines",
                                 line=dict(color=INK, width=4.6), xaxis=xr, yaxis=yr,
                                 hoverinfo="skip", showlegend=False))
        if outs[j]:
            fig.add_trace(go.Scatter(x=[pos] * len(outs[j]), y=outs[j], mode="markers",
                                     marker=dict(color=INK, size=6), xaxis=xr, yaxis=yr,
                                     hoverinfo="skip", showlegend=False))

# ---------- bottom row: scatter + fit ----------
bottom_sets = [
    (phq0_rows_y, phq0_rows_x, phq0_pts, phq_pts, phq_fit_x, phq_fit_y),
    (gad0_rows_y, gad0_rows_x, gad0_pts, gad_pts, gad_fit_x, gad_fit_y),
    (bat0_rows_y, bat0_rows_x, bat0_pts, bat_pts, bat_fit_x, bat_fit_y),
]
for k, (ry, rx, p0, pts, fx, fy) in enumerate(bottom_sets):
    i = k + 4
    xr, yr, _, _ = ax_names(i)
    lx, sy = [], []
    for yv, xs in zip(ry, rx):
        for xv in xs:
            lx.append(xv)
            sy.append(yv)
    for xv, yv in p0 + pts:
        lx.append(xv)
        sy.append(yv)
    hours = 2.0 ** np.array(lx)
    fig.add_trace(go.Scatter(x=hours, y=sy, mode="markers",
                             marker=dict(color="black", size=5.8, line=dict(width=0)),
                             xaxis=xr, yaxis=yr, hoverinfo="skip", showlegend=False))
    fig.add_trace(go.Scatter(x=2.0 ** np.array(fx), y=fy, mode="lines",
                             line=dict(color=FIT, width=5), xaxis=xr, yaxis=yr,
                             hoverinfo="skip", showlegend=False))

# ---------- axes ----------
layout_axes = {}
ytick_sets = {1: phq_yticks, 2: gad_yticks, 3: bat_yticks, 4: phq_yticks, 5: gad_yticks, 6: bat_yticks}
fit_x_sets = {4: phq_fit_x, 5: gad_fit_x, 6: bat_fit_x}
for i, (l, t, r, b) in PANELS.items():
    xr, yr, xa, ya = ax_names(i)
    common = dict(showline=True, linecolor=INK, linewidth=1.3, mirror=True,
                  ticks="outside", ticklen=4, tickwidth=1.3, tickcolor=INK,
                  showgrid=True, gridcolor=GRID, gridwidth=1.5, zeroline=False,
                  automargin=False,
                  tickfont=dict(family=FONT, size=14, color=TICKTXT))
    yt = ytick_sets[i]
    step = yt[1] - yt[0]
    minor_y = [v + step / 2 for v in [yt[0] - step] + yt]
    layout_axes[ya] = dict(common, domain=[px_y(b), px_y(t)], anchor=xr, range=Y_RANGE[i],
                           tickmode="array", tickvals=yt, ticktext=[str(v) for v in yt],
                           minor=dict(tickvals=minor_y, showgrid=True, gridcolor=GRID,
                                      gridwidth=0.8, ticks=""))
    if i <= 3:
        layout_axes[xa] = dict(common, domain=[px_x(l), px_x(r)], anchor=yr, range=[0.4, 5.6],
                               tickmode="array", tickvals=ppe_pos, ticktext=[""] * 5)
    else:
        fx = fit_x_sets[i]
        layout_axes[xa] = dict(common, domain=[px_x(l), px_x(r)], anchor=yr, type="log",
                               range=[fx[0] * np.log10(2), fx[1] * np.log10(2)],
                               tickmode="array", tickvals=hours_ticks, ticktext=hours_ticktext,
                               minor=dict(tickvals=[2 ** -3.5, 2 ** -0.5, 2 ** 2.5, 2 ** 5.5],
                                          showgrid=True, gridcolor=GRID, gridwidth=0.8,
                                          ticks=""))

# ---------- annotations ----------
ann = []


def text(x, y, s, size, color="black", xanchor="center", yanchor="middle", xref="paper", angle=0):
    ann.append(dict(x=x, y=y, xref=xref, yref="paper", text=s, showarrow=False,
                    xanchor=xanchor, yanchor=yanchor, textangle=angle,
                    borderpad=0, borderwidth=0,
                    font=dict(family=FONT, size=size, color=color)))


cat_line_y = [395.5, 410.5, 425.8]
ytitle_x = {1: 15.8, 2: 444.5, 3: 873.5}
for k in range(3):
    i = k + 1
    l, t, r, b = PANELS[i]
    text(px_x(l), px_y(16.2), top_titles[k], 16.5, xanchor="left")
    text(px_x(r - 16.5), px_y(63), p_top[k], 17.3, xanchor="right")
    text(px_x((l + r) / 2), px_y(443), "Adequate PPE", 15.5)
    text(px_x(ytitle_x[i]), px_y((t + b) / 2), y_titles[k], 15.5, angle=-90)
    xr = ax_names(i)[0]
    for lines, yy in zip([ppe_line1, ppe_line2, ppe_line3], cat_line_y):
        for j, pos in enumerate(ppe_pos):
            if lines[j]:
                text(pos, px_y(yy), lines[j], 14, color=TICKTXT, xref=xr)
    # bottom row
    i2 = k + 4
    l, t, r, b = PANELS[i2]
    for s, yy in zip(bottom_titles[k], [470.9, 489.2, 507.5]):
        text(px_x(l), px_y(yy), s, 16.5, xanchor="left")
    text(px_x(r - 13.5), px_y(534.2), p_bottom[k], 15.4, xanchor="right")
    text(px_x((l + r) / 2), px_y(916.2), "Hours", 15.5)
    text(px_x(ytitle_x[i]), px_y((t + b) / 2), y_titles[k], 15.5, angle=-90)

fig.update_layout(width=W, height=H, margin=dict(l=0, r=0, t=0, b=0, autoexpand=False),
                  paper_bgcolor="white", plot_bgcolor="white", showlegend=False,
                  font=dict(family=FONT), annotations=ann, **layout_axes)

fig.write_html("out.html", config={"displayModeBar": False},
               post_script="document.body.style.margin='0';")
